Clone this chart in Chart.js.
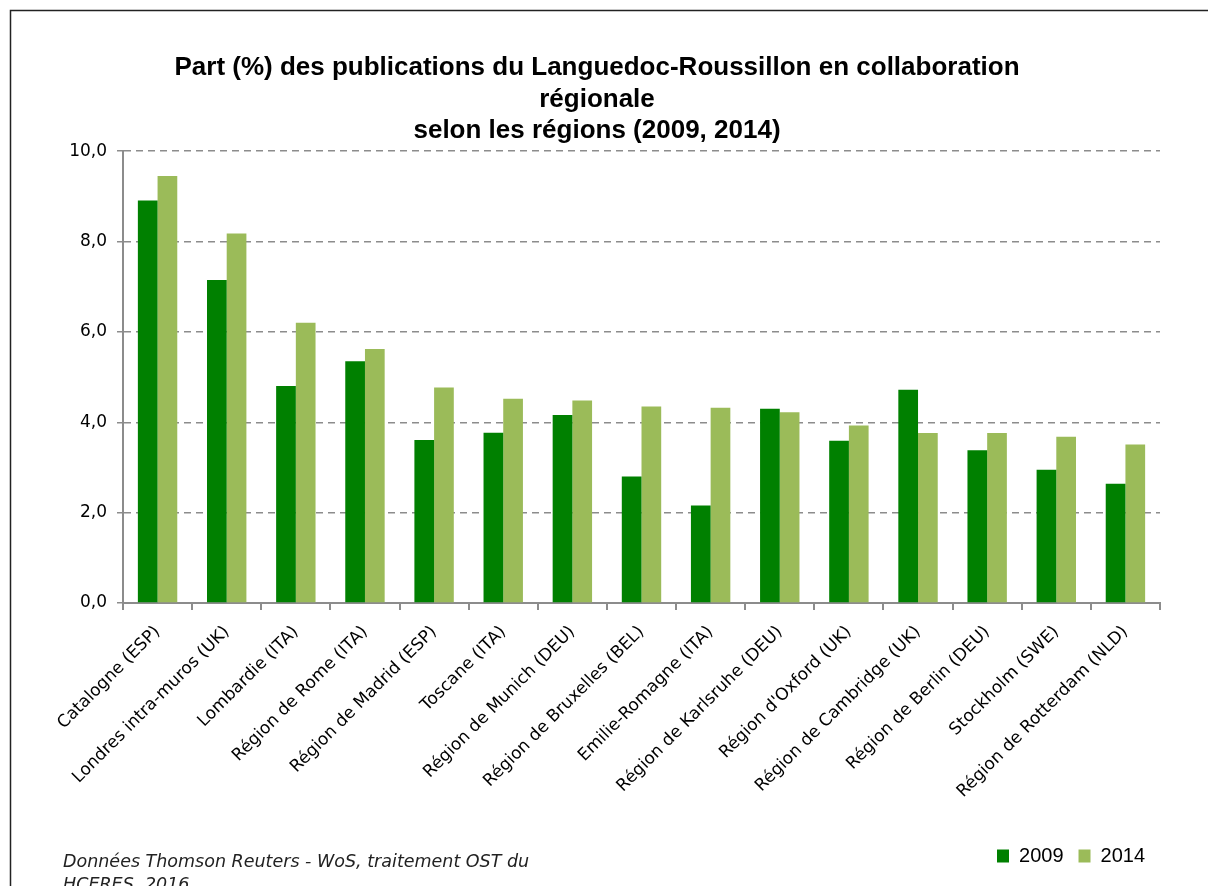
<!DOCTYPE html>
<html>
<head>
<meta charset="utf-8">
<title>Part des publications du Languedoc-Roussillon</title>
<script src="https://cdn.jsdelivr.net/npm/chart.js"></script>
<style>
  html, body { margin: 0; padding: 0; background: #fff; }
  canvas { display: block; }
</style>
</head>
<body>
<canvas id="regionsChart" width="1208" height="886"></canvas>
<script>
const regions = [
  'Catalogne (ESP)', 'Londres intra-muros (UK)', 'Lombardie (ITA)', 'Région de Rome (ITA)',
  'Région de Madrid (ESP)', 'Toscane (ITA)', 'Région de Munich (DEU)', 'Région de Bruxelles (BEL)',
  'Emilie-Romagne (ITA)', 'Région de Karlsruhe (DEU)', "Région d'Oxford (UK)", 'Région de Cambridge (UK)',
  'Région de Berlin (DEU)', 'Stockholm (SWE)', 'Région de Rotterdam (NLD)'
];
const part2009 = [8.91, 7.15, 4.80, 5.35, 3.61, 3.77, 4.16, 2.80, 2.16, 4.30, 3.59, 4.72, 3.38, 2.95, 2.64];
const part2014 = [9.45, 8.18, 6.20, 5.62, 4.77, 4.52, 4.48, 4.35, 4.32, 4.22, 3.93, 3.76, 3.76, 3.68, 3.51];
const titleLines = [
  'Part (%) des publications du Languedoc-Roussillon en collaboration',
  'régionale',
  'selon les régions (2009, 2014)'
];
const sourceLines = ['Données Thomson Reuters - WoS, traitement OST du', 'HCERES, 2016'];

const baseFont = 'DejaVu Sans';

// outer frame + source note
const framePlugin = {
  id: 'frame',
  beforeDraw(chart) {
    const c = chart.ctx;
    c.save();
    c.fillStyle = '#fff';
    c.fillRect(0, 0, chart.width, chart.height);
    c.strokeStyle = '#222';
    c.lineWidth = 1.5;
    c.beginPath();
    c.moveTo(10.5, chart.height);
    c.lineTo(10.5, 10.5);
    c.lineTo(chart.width, 10.5);
    c.stroke();
    c.restore();
  },
  afterDraw(chart) {
    const c = chart.ctx;
    c.save();
    c.fillStyle = '#222';
    c.font = 'italic 17.5px "' + baseFont + '"';
    c.textBaseline = 'middle';
    sourceLines.forEach((line, i) => c.fillText(line, 63, 862 + i * 23));
    c.restore();
  }
};

const chart = new Chart(document.getElementById('regionsChart'), {
  type: 'bar',
  data: {
    labels: regions,
    datasets: [
      { label: '2009', data: part2009, backgroundColor: '#008000' },
      { label: '2014', data: part2014, backgroundColor: '#9bbb59' }
    ]
  },
  plugins: [framePlugin],
  options: {
    responsive: false,
    animation: false,
    categoryPercentage: 0.57,
    barPercentage: 1.0,
    layout: { padding: { left: 34, right: 48, top: 52, bottom: 10 } },
    plugins: {
      title: {
        display: true,
        text: titleLines,
        color: '#000',
        font: { family: 'Liberation Sans', size: 26, weight: 'bold', lineHeight: 1.22 },
        padding: { top: 0, bottom: 4 }
      },
      legend: {
        position: 'bottom',
        align: 'end',
        labels: {
          color: '#000',
          font: { family: 'Liberation Sans', size: 20 },
          boxWidth: 12,
          boxHeight: 13,
          padding: 15
        }
      },
      tooltip: { enabled: false }
    },
    scales: {
      x: {
        grid: { display: true, drawOnChartArea: false, drawTicks: true, tickLength: 7, color: '#8c8c8c', lineWidth: 2, offset: true },
        border: { display: true, color: '#8c8c8c', width: 2 },
        ticks: {
          color: '#000',
          font: { family: baseFont, size: 17 },
          minRotation: 45,
          maxRotation: 45,
          padding: 12
        },
        afterFit(scale) { scale.height = 228; }
      },
      y: {
        min: 0,
        max: 10,
        grid: { color: '#8c8c8c', lineWidth: 1.5, tickLength: 6 },
        border: { display: true, color: '#8c8c8c', width: 2, dash: [7, 5] },
        ticks: {
          stepSize: 2,
          color: '#000',
          font: { family: baseFont, size: 17 },
          padding: 10,
          callback: v => v.toFixed(1).replace('.', ',')
        },
        afterFit(scale) { scale.width = 89; }
      }
    }
  }
});
</script>
</body>
</html>
